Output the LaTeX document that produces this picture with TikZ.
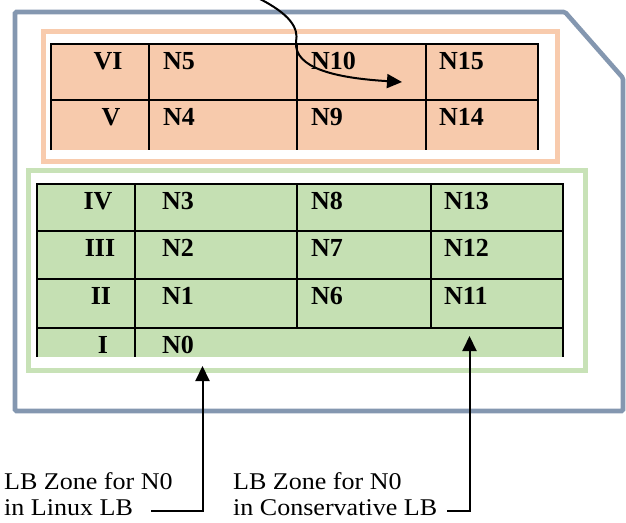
\documentclass[tikz,border=0pt]{standalone}
\usepackage{fontspec}
\setmainfont{Liberation Serif}
\newfontfamily\lbfont[FakeStretch=1.085]{Liberation Serif}
\usetikzlibrary{arrows.meta}
\definecolor{frameblue}{RGB}{132,151,176}
\definecolor{orangeline}{RGB}{248,203,173}
\definecolor{orangefill}{RGB}{247,202,172}
\definecolor{greenline}{RGB}{200,226,183}
\definecolor{greenfill}{RGB}{197,224,179}
\begin{document}
\begin{tikzpicture}[x=1pt,y=-1pt,
  cell/.style={font=\fontsize{26}{26}\selectfont\bfseries, anchor=base west, inner sep=0pt},
  rowlab/.style={font=\fontsize{26}{26}\selectfont\bfseries, anchor=base, inner sep=0pt},
  gridline/.style={line width=2pt, black},
  caption/.style={font=\lbfont\fontsize{24}{24}\selectfont, anchor=base west, inner sep=0pt},
  pointer/.style={line width=2pt, -{Triangle[length=15pt,width=14pt]}}]
\useasboundingbox (0,0) rectangle (626,522);

% outer frame
\draw[frameblue, line width=4.6pt, rounded corners=1.5pt]
  (15,12) -- (565,12) -- (623,78) -- (623,411) -- (15,411) -- cycle;

% orange zone
\draw[orangeline, line width=5pt] (43,31) rectangle (557,161);
\fill[orangefill] (51,44) rectangle (538,150);
\draw[gridline] (51,150) -- (51,44) -- (538,44) -- (538,150);
\draw[gridline] (51,100) -- (538,100);
\foreach \cx in {149,297,426} \draw[gridline] (\cx,44) -- (\cx,150);

% green zone
\draw[greenline, line width=5pt] (28.5,170.5) rectangle (585,370.5);
\fill[greenfill] (37,184) rectangle (563,357);
\draw[gridline] (37,357) -- (37,184) -- (563,184) -- (563,357);
\foreach \ry in {231,279,328} \draw[gridline] (37,\ry) -- (563,\ry);
\draw[gridline] (135,184) -- (135,357);
\foreach \cx in {297,431} \draw[gridline] (\cx,184) -- (\cx,328);

% orange labels
\node[rowlab] (r6) at (108,69) {VI};
\node[rowlab] (r5) at (111,125) {V};
\node[cell] (n5) at (163,69) {N5};
\node[cell] (n10) at (311,69) {N10};
\node[cell] (n15) at (439,69) {N15};
\node[cell] (n4) at (163,125) {N4};
\node[cell] (n9) at (311,125) {N9};
\node[cell] (n14) at (439,125) {N14};

% green labels
\node[rowlab] (r4) at (98,209) {IV};
\node[rowlab] (r3) at (100,256) {III};
\node[rowlab] (r2) at (101,304) {II};
\node[rowlab] (r1) at (103,353) {I};
\node[cell] (n3) at (162,209) {N3};
\node[cell] (n8) at (311,209) {N8};
\node[cell] (n13) at (444,209) {N13};
\node[cell] (n2) at (162,256) {N2};
\node[cell] (n7) at (311,256) {N7};
\node[cell] (n12) at (444,256) {N12};
\node[cell] (n1) at (162,304) {N1};
\node[cell] (n6) at (311,304) {N6};
\node[cell] (n11) at (444,304) {N11};
\node[cell] (n0) at (162,353) {N0};

% captions
\node[caption] (capA1) at (4,489) {LB Zone for N0};
\node[caption] (capA2) at (4,515) {in Linux LB};
\node[caption] (capB1) at (233,489) {LB Zone for N0};
\node[caption] (capB2) at (233,515) {in Conservative LB};

% pointers
\coordinate (startA) at (151,511);
\coordinate (tipA) at (202.5,366);
\coordinate (startB) at (447,511);
\coordinate (tipB) at (469.5,336);
\draw[pointer] (startA) -| (tipA);
\draw[pointer] (startB) -| (tipB);

% curved arrow
\coordinate (curveS) at (258,-2);
\coordinate (curveM) at (296,42);
\coordinate (curveE) at (402,82);
\draw[pointer] (curveS) .. controls (290,14) and (299,28) .. (curveM)
  .. controls (294,68) and (335,78) .. (curveE);
\end{tikzpicture}
\end{document}
